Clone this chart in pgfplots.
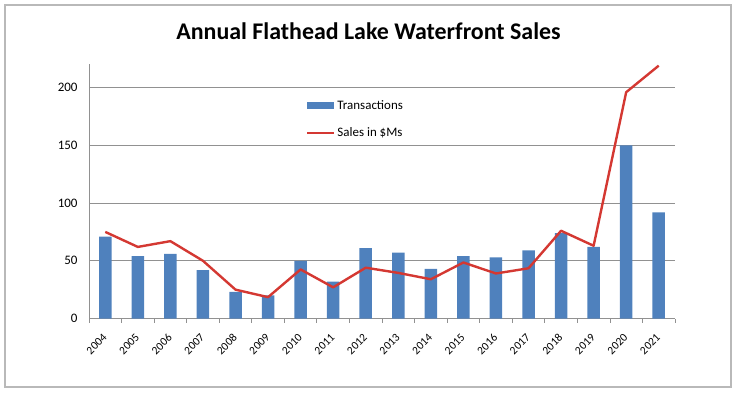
\documentclass[border=0pt]{standalone}
\usepackage{pgfplots}
\pgfplotsset{compat=1.18}
\usepackage{fontspec}
\setmainfont{Carlito}
\definecolor{barblue}{RGB}{79,129,189}
\definecolor{linered}{RGB}{212,56,50}
\definecolor{gridgray}{RGB}{145,145,145}
\pgfplotstableread{
x trans sales
0 71 75
1 54 62
2 56 67
3 42 50
4 23 25
5 20 18.5
6 50 42.5
7 32 27
8 61 44
9 57 39.5
10 43 34
11 54 48.5
12 53 39
13 59 43.5
14 74 76
15 62 63
16 150 196
17 92 219
}\datatable
\begin{document}
\begin{tikzpicture}[x=1bp,y=1bp]
\useasboundingbox (-89,-73.5) rectangle (649,318.5);
\draw[gray!55, line width=1.2bp] (-84,-68.5) rectangle (642,313.5);
\node[font=\fontsize{24}{28}\selectfont\bfseries] at (279.5,287.5) {Annual Flathead Lake Waterfront Sales};
\begin{axis}[
  at={(0,0)}, anchor=south west,
  scale only axis, width=586bp, height=254bp,
  xmin=-0.5, xmax=17.5, ymin=0, ymax=220,
  axis lines=left,
  axis line style={gridgray, line width=0.8bp, -},
  ytick={0,50,100,150,200},
  ymajorgrids,
  grid style={gridgray, line width=0.8bp},
  xtick={0,...,17},
  xticklabels={2004,2005,2006,2007,2008,2009,2010,2011,2012,2013,2014,2015,2016,2017,2018,2019,2020,2021},
  minor xtick={-0.5,0.5,...,17.5},
  major tick length=0pt,
  minor tick length=4bp,
  tick align=outside,
  minor tick style={gridgray, line width=0.8bp},
  /pgf/number format/assume math mode=true,
  yticklabel style={font=\fontsize{13}{15}\selectfont, xshift=-8bp},
  xticklabel style={font=\fontsize{11.5}{13}\selectfont, xshift=2bp, yshift=-15bp, rotate=45, anchor=east},
  legend style={at={(rel axis cs:0.365,0.875)}, anchor=north west, draw=none, fill=none,
    font=\fontsize{13}{15}\selectfont, row sep=13bp},
  legend cell align=left,
]
\addplot[ybar, bar width=12.5bp, bar shift=0pt, fill=barblue, draw=none,
  legend image code/.code={\fill[barblue] (0bp,-3.5bp) rectangle (27bp,3.5bp);}]
  table[x=x, y=trans] {\datatable};
\addlegendentry{Transactions}
\addplot[sharp plot, linered, line width=2.4bp, no markers, line join=round,
  legend image code/.code={\draw[linered, line width=2.4bp] (0bp,0bp) -- (27bp,0bp);}]
  table[x=x, y=sales] {\datatable};
\addlegendentry{Sales in \$Ms}
\end{axis}
\end{tikzpicture}
\end{document}
